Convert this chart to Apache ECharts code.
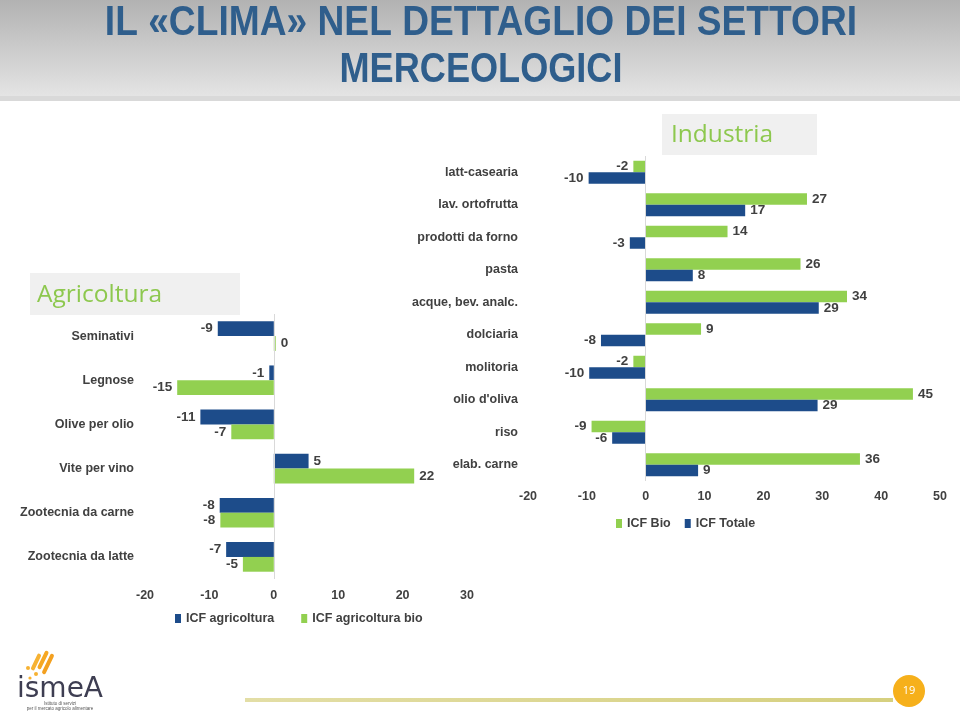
<!DOCTYPE html>
<html>
<head>
<meta charset="utf-8">
<script src="https://cdn.jsdelivr.net/npm/echarts@6/dist/echarts.min.js"></script>
<style>
html,body{margin:0;padding:0;background:#fff;}
#c{width:960px;height:712px;}
</style>
</head>
<body>
<div id="c"></div>
<script>
// ---- Industria ----
const indCategories = ["latt-casearia","lav. ortofrutta","prodotti da forno","pasta","acque, bev. analc.","dolciaria","molitoria","olio d'oliva","riso","elab. carne"];
const indBio = [-2.1, 27.4, 13.9, 26.3, 34.2, 9.4, -2.1, 45.4, -9.2, 36.4];
const indTotale = [-9.7, 16.9, -2.7, 8.0, 29.4, -7.6, -9.6, 29.2, -5.7, 8.9];
const indTicks = {min: -20, max: 50, interval: 10};

// ---- Agricoltura ----
const agrCategories = ["Seminativi","Legnose","Olive per olio","Vite per vino","Zootecnia da carne","Zootecnia da latte"];
const agrIcf = [-8.7, -0.7, -11.4, 5.4, -8.4, -7.4];
const agrBio = [0.3, -15.0, -6.6, 21.8, -8.3, -4.8];
const agrTicks = {min: -20, max: 30, interval: 10};

const BLUE = '#1D4C8A';
const GREEN = '#92D050';
const TXT = '#404040';
const FONT = "'Liberation Sans', Arial, sans-serif";

function items(arr) {
  return arr.map(v => ({value: v, label: {position: v < 0 ? 'left' : 'right'}}));
}
const valueLabel = {
  show: true, distance: 5, color: TXT, fontFamily: FONT, fontWeight: 'bold', fontSize: 13.5,
  formatter: p => String(Math.round(p.value))
};
const zeroLine = {
  silent: true, symbol: 'none', label: {show: false}, animation: false,
  lineStyle: {color: '#d9d9d9', width: 1, type: 'solid'},
  data: [{xAxis: 0}]
};

const chart = echarts.init(document.getElementById('c'), null, {renderer: 'canvas'});
chart.setOption({
  animation: false,
  backgroundColor: '#ffffff',
  grid: [
    {left: 528, top: 156, width: 412, height: 325},
    {left: 145, top: 314, width: 322, height: 265}
  ],
  xAxis: [
    {type: 'value', gridIndex: 0, min: indTicks.min, max: indTicks.max, interval: indTicks.interval,
     splitLine: {show: false}, axisLine: {show: false}, axisTick: {show: false},
     axisLabel: {margin: 9, color: TXT, fontFamily: FONT, fontWeight: 'bold', fontSize: 12.5}},
    {type: 'value', gridIndex: 1, min: agrTicks.min, max: agrTicks.max, interval: agrTicks.interval,
     splitLine: {show: false}, axisLine: {show: false}, axisTick: {show: false},
     axisLabel: {margin: 10, color: TXT, fontFamily: FONT, fontWeight: 'bold', fontSize: 12.5}}
  ],
  yAxis: [
    {type: 'category', gridIndex: 0, data: indCategories, inverse: true,
     axisLine: {show: false}, axisTick: {show: false},
     axisLabel: {margin: 10, color: TXT, fontFamily: FONT, fontWeight: 'bold', fontSize: 12.5}},
    {type: 'category', gridIndex: 1, data: agrCategories, inverse: true,
     axisLine: {show: false}, axisTick: {show: false},
     axisLabel: {margin: 11, color: TXT, fontFamily: FONT, fontWeight: 'bold', fontSize: 12.5}}
  ],
  legend: [
    {data: ['ICF Bio', 'ICF Totale'], left: 616, top: 517, padding: 0, itemGap: 14,
     icon: 'rect', itemWidth: 6, itemHeight: 9,
     textStyle: {color: TXT, fontFamily: FONT, fontWeight: 'bold', fontSize: 12.5}},
    {data: ['ICF agricoltura', 'ICF agricoltura bio'], left: 175, top: 612, padding: 0, itemGap: 27,
     icon: 'rect', itemWidth: 6, itemHeight: 9,
     textStyle: {color: TXT, fontFamily: FONT, fontWeight: 'bold', fontSize: 12.5}}
  ],
  series: [
    {name: 'ICF Bio', type: 'bar', xAxisIndex: 0, yAxisIndex: 0, data: items(indBio),
     itemStyle: {color: GREEN}, barWidth: 11.5, barGap: '0%', label: valueLabel, markLine: zeroLine},
    {name: 'ICF Totale', type: 'bar', xAxisIndex: 0, yAxisIndex: 0, data: items(indTotale),
     itemStyle: {color: BLUE}, barWidth: 11.5, barGap: '0%', label: valueLabel},
    {name: 'ICF agricoltura', type: 'bar', xAxisIndex: 1, yAxisIndex: 1, data: items(agrIcf),
     itemStyle: {color: BLUE}, barWidth: 14.8, barGap: '0%', label: valueLabel, markLine: zeroLine},
    {name: 'ICF agricoltura bio', type: 'bar', xAxisIndex: 1, yAxisIndex: 1, data: items(agrBio),
     itemStyle: {color: GREEN}, barWidth: 14.8, barGap: '0%', label: valueLabel}
  ],
  graphic: [
    // title band
    {type: 'rect', shape: {x: 0, y: 0, width: 960, height: 96}, silent: true, z: -10,
     style: {fill: new echarts.graphic.LinearGradient(0, 0, 0, 1, [
       {offset: 0, color: '#b2b2b2'}, {offset: 1, color: '#e4e4e4'}])}},
    {type: 'rect', shape: {x: 0, y: 96, width: 960, height: 5}, silent: true, z: -10,
     style: {fill: '#d9d9d9'}},
    {type: 'text', x: 481, y: 23, scaleX: 0.885, silent: true,
     style: {text: 'IL «CLIMA» NEL DETTAGLIO DEI SETTORI', fill: '#2F5E8C',
       font: "bold 42px 'Liberation Sans', Arial, sans-serif", textAlign: 'center', textVerticalAlign: 'middle'}},
    {type: 'text', x: 481, y: 70, scaleX: 0.86, silent: true,
     style: {text: 'MERCEOLOGICI', fill: '#2F5E8C',
       font: "bold 42px 'Liberation Sans', Arial, sans-serif", textAlign: 'center', textVerticalAlign: 'middle'}},
    // section boxes
    {type: 'rect', shape: {x: 662, y: 114, width: 155, height: 41}, silent: true, z: -5,
     style: {fill: '#f0f0f0'}},
    {type: 'text', x: 671, y: 135, silent: true,
     style: {text: 'Industria', fill: '#8DC84E', font: "24.5px 'Open Sans', sans-serif",
       textAlign: 'left', textVerticalAlign: 'middle'}},
    {type: 'rect', shape: {x: 30, y: 273, width: 210, height: 42}, silent: true, z: -5,
     style: {fill: '#f0f0f0'}},
    {type: 'text', x: 37, y: 295, silent: true,
     style: {text: 'Agricoltura', fill: '#8DC84E', font: "24.5px 'Open Sans', sans-serif",
       textAlign: 'left', textVerticalAlign: 'middle'}},
    // footer line and page number
    {type: 'rect', shape: {x: 245, y: 698, width: 648, height: 4}, silent: true,
     style: {fill: new echarts.graphic.LinearGradient(0, 0, 1, 0, [
       {offset: 0, color: '#e3dea6'}, {offset: 1, color: '#d6d07f'}])}},
    {type: 'circle', shape: {cx: 909, cy: 691, r: 16}, silent: true, style: {fill: '#F6B01B'}},
    {type: 'text', x: 909, y: 691, silent: true,
     style: {text: '19', fill: '#ffffff', font: "11px 'Open Sans', sans-serif",
       textAlign: 'center', textVerticalAlign: 'middle'}},
    // logo
    {type: 'rect', shape: {x: -2, y: -9, width: 4, height: 18, r: 2}, x: 36, y: 662, rotation: -0.45, silent: true, style: {fill: '#F6B233'}},
    {type: 'rect', shape: {x: -2, y: -10, width: 4, height: 20, r: 2}, x: 43, y: 660, rotation: -0.45, silent: true, style: {fill: '#F6A823'}},
    {type: 'rect', shape: {x: -2, y: -11, width: 4, height: 22, r: 2}, x: 48, y: 664, rotation: -0.45, silent: true, style: {fill: '#F3A020'}},
    {type: 'circle', shape: {cx: 28, cy: 668, r: 2}, silent: true, style: {fill: '#F6B233'}},
    {type: 'circle', shape: {cx: 36, cy: 674, r: 2}, silent: true, style: {fill: '#F6B233'}},
    {type: 'circle', shape: {cx: 30, cy: 678, r: 1.6}, silent: true, style: {fill: '#F6B233'}},
    {type: 'text', x: 60, y: 690, scaleX: 1.0, silent: true,
     style: {text: 'ismeA', fill: '#3E3E52', font: "28px 'DejaVu Sans', sans-serif",
       textAlign: 'center', textVerticalAlign: 'middle'}},
    {type: 'text', x: 60, y: 704, silent: true,
     style: {text: 'Istituto di servizi', fill: '#555555', font: "4.5px sans-serif", textAlign: 'center', textVerticalAlign: 'middle'}},
    {type: 'text', x: 60, y: 709, silent: true,
     style: {text: 'per il mercato agricolo alimentare', fill: '#555555', font: "4.5px sans-serif", textAlign: 'center', textVerticalAlign: 'middle'}}
  ]
});
</script>
</body>
</html>
